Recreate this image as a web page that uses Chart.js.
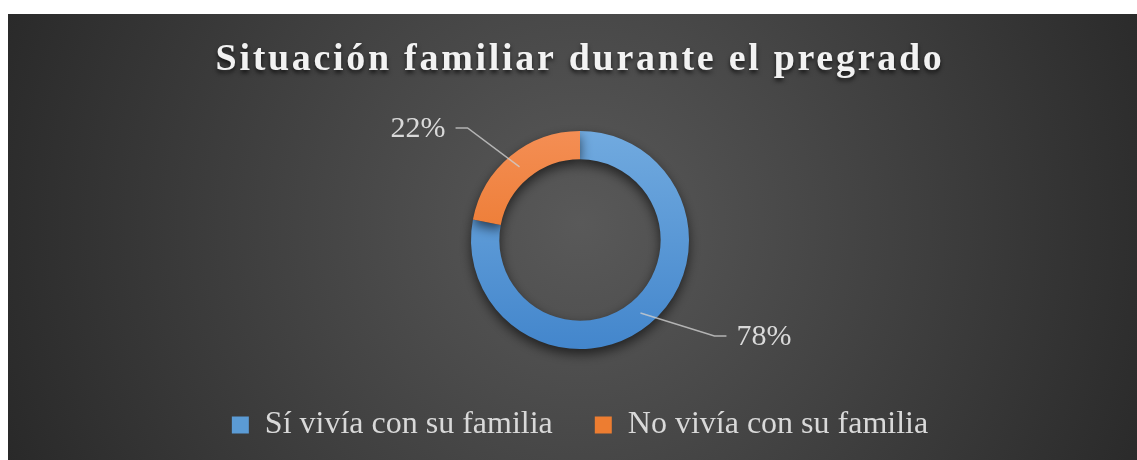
<!DOCTYPE html>
<html>
<head>
<meta charset="utf-8">
<script src="https://cdn.jsdelivr.net/npm/chart.js@4.4.1/dist/chart.umd.min.js"></script>
<style>
  html, body { margin: 0; background: #fff; }
  #wrap { position: absolute; left: 8px; top: 14px; width: 1129px; height: 446px; }
</style>
</head>
<body>
<div id="wrap"><canvas id="myChart"></canvas></div>
<script>
const chartTitle = 'Situación familiar durante el pregrado';
const categories = ['Sí vivía con su familia', 'No vivía con su familia'];
const percentages = [78, 22];

// colours: top/bottom of each slice gradient, flat colour for the legend swatch
const sliceColors = [['#71aadf', '#4386cc'], ['#f48e54', '#e66c18']];
const legendColors = ['#5b9bd5', '#ed7d31'];
// elbow of each leader line, measured from the middle of its slice
const labelElbows = [[74, 23], [-52, -39]];
const ringRadius = 109;

var ctx = document.getElementById('myChart');

function sliceFill(context) {
    const chart = context.chart;
    const area = chart.chartArea;
    const pair = sliceColors[context.dataIndex];
    if (!area) return pair[0];
    const cy = (area.top + area.bottom) / 2;
    const g = chart.ctx.createLinearGradient(0, cy - ringRadius, 0, cy + ringRadius);
    g.addColorStop(0, pair[0]);
    g.addColorStop(1, pair[1]);
    return g;
}

const backgroundPlugin = {
    id: 'darkBackground',
    beforeDraw(chart) {
        const c = chart.ctx;
        const cx = chart.width / 2 + 8;
        const cy = 210;
        const g = c.createRadialGradient(cx, cy, 0, cx, cy, 660);
        g.addColorStop(0, '#595959');
        g.addColorStop(1, '#262626');
        c.save();
        c.fillStyle = g;
        c.fillRect(0, 0, chart.width, chart.height);
        c.restore();
    }
};

const ringShadowPlugin = {
    id: 'ringShadow',
    beforeDatasetDraw(chart) {
        const c = chart.ctx;
        c.save();
        c.shadowColor = 'rgba(0,0,0,0.6)';
        c.shadowBlur = 12;
        c.shadowOffsetY = 5;
    },
    afterDatasetDraw(chart) {
        chart.ctx.restore();
    }
};

const percentLabelPlugin = {
    id: 'percentLabels',
    afterDatasetsDraw(chart) {
        const c = chart.ctx;
        const arcs = chart.getDatasetMeta(0).data;
        const total = percentages.reduce((a, b) => a + b, 0);
        arcs.forEach((arc, i) => {
            const mid = (arc.startAngle + arc.endAngle) / 2;
            const r = (arc.innerRadius + arc.outerRadius) / 2;
            const sx = arc.x + Math.cos(mid) * r;
            const sy = arc.y + Math.sin(mid) * r;
            const ex = sx + labelElbows[i][0];
            const ey = sy + labelElbows[i][1];
            const side = labelElbows[i][0] > 0 ? 1 : -1;
            const tx = ex + side * 12;
            c.save();
            c.strokeStyle = 'rgba(205,205,205,0.8)';
            c.lineWidth = 1.5;
            c.beginPath();
            c.moveTo(sx, sy);
            c.lineTo(ex, ey);
            c.lineTo(tx, ey);
            c.stroke();
            c.font = '30px "Liberation Serif"';
            c.fillStyle = '#d9d9d9';
            c.textAlign = side > 0 ? 'left' : 'right';
            c.textBaseline = 'middle';
            c.fillText(Math.round(percentages[i] / total * 100) + '%', tx + side * 10, ey + 1);
            c.restore();
        });
    }
};

const titlePlugin = {
    id: 'spacedTitle',
    afterDraw(chart) {
        const c = chart.ctx;
        c.save();
        c.font = 'bold 38px "Liberation Serif"';
        c.letterSpacing = '2.7px';
        c.fillStyle = '#f2f2f2';
        c.textAlign = 'center';
        c.textBaseline = 'alphabetic';
        c.shadowColor = 'rgba(0,0,0,0.65)';
        c.shadowBlur = 4;
        c.shadowOffsetY = 3;
        c.fillText(chartTitle, (chart.width + 15) / 2, 56);
        c.restore();
    }
};

var myChart = new Chart(ctx, {
    type: 'doughnut',
    data: {
        labels: categories,
        datasets: [{
            data: percentages,
            backgroundColor: sliceFill,
            borderWidth: 0
        }]
    },
    options: {
        responsive: true,
        maintainAspectRatio: false,
        animation: false,
        devicePixelRatio: 1,
        radius: ringRadius,
        cutout: '74%',
        layout: { padding: { top: 99, left: 15, right: 0, bottom: 9 } },
        plugins: {
            title: { display: false },
            tooltip: { enabled: false },
            legend: {
                position: 'bottom',
                labels: {
                    color: '#d9d9d9',
                    boxWidth: 17,
                    boxHeight: 17,
                    padding: 42,
                    font: { family: '"Liberation Serif"', size: 32 },
                    generateLabels: function (chart) {
                        const items = Chart.overrides.doughnut.plugins.legend.labels.generateLabels(chart);
                        items.forEach((item, i) => {
                            item.fillStyle = legendColors[i];
                            item.strokeStyle = legendColors[i];
                            item.lineWidth = 0;
                        });
                        return items;
                    }
                }
            }
        }
    },
    plugins: [backgroundPlugin, ringShadowPlugin, percentLabelPlugin, titlePlugin]
});
</script>
</body>
</html>
